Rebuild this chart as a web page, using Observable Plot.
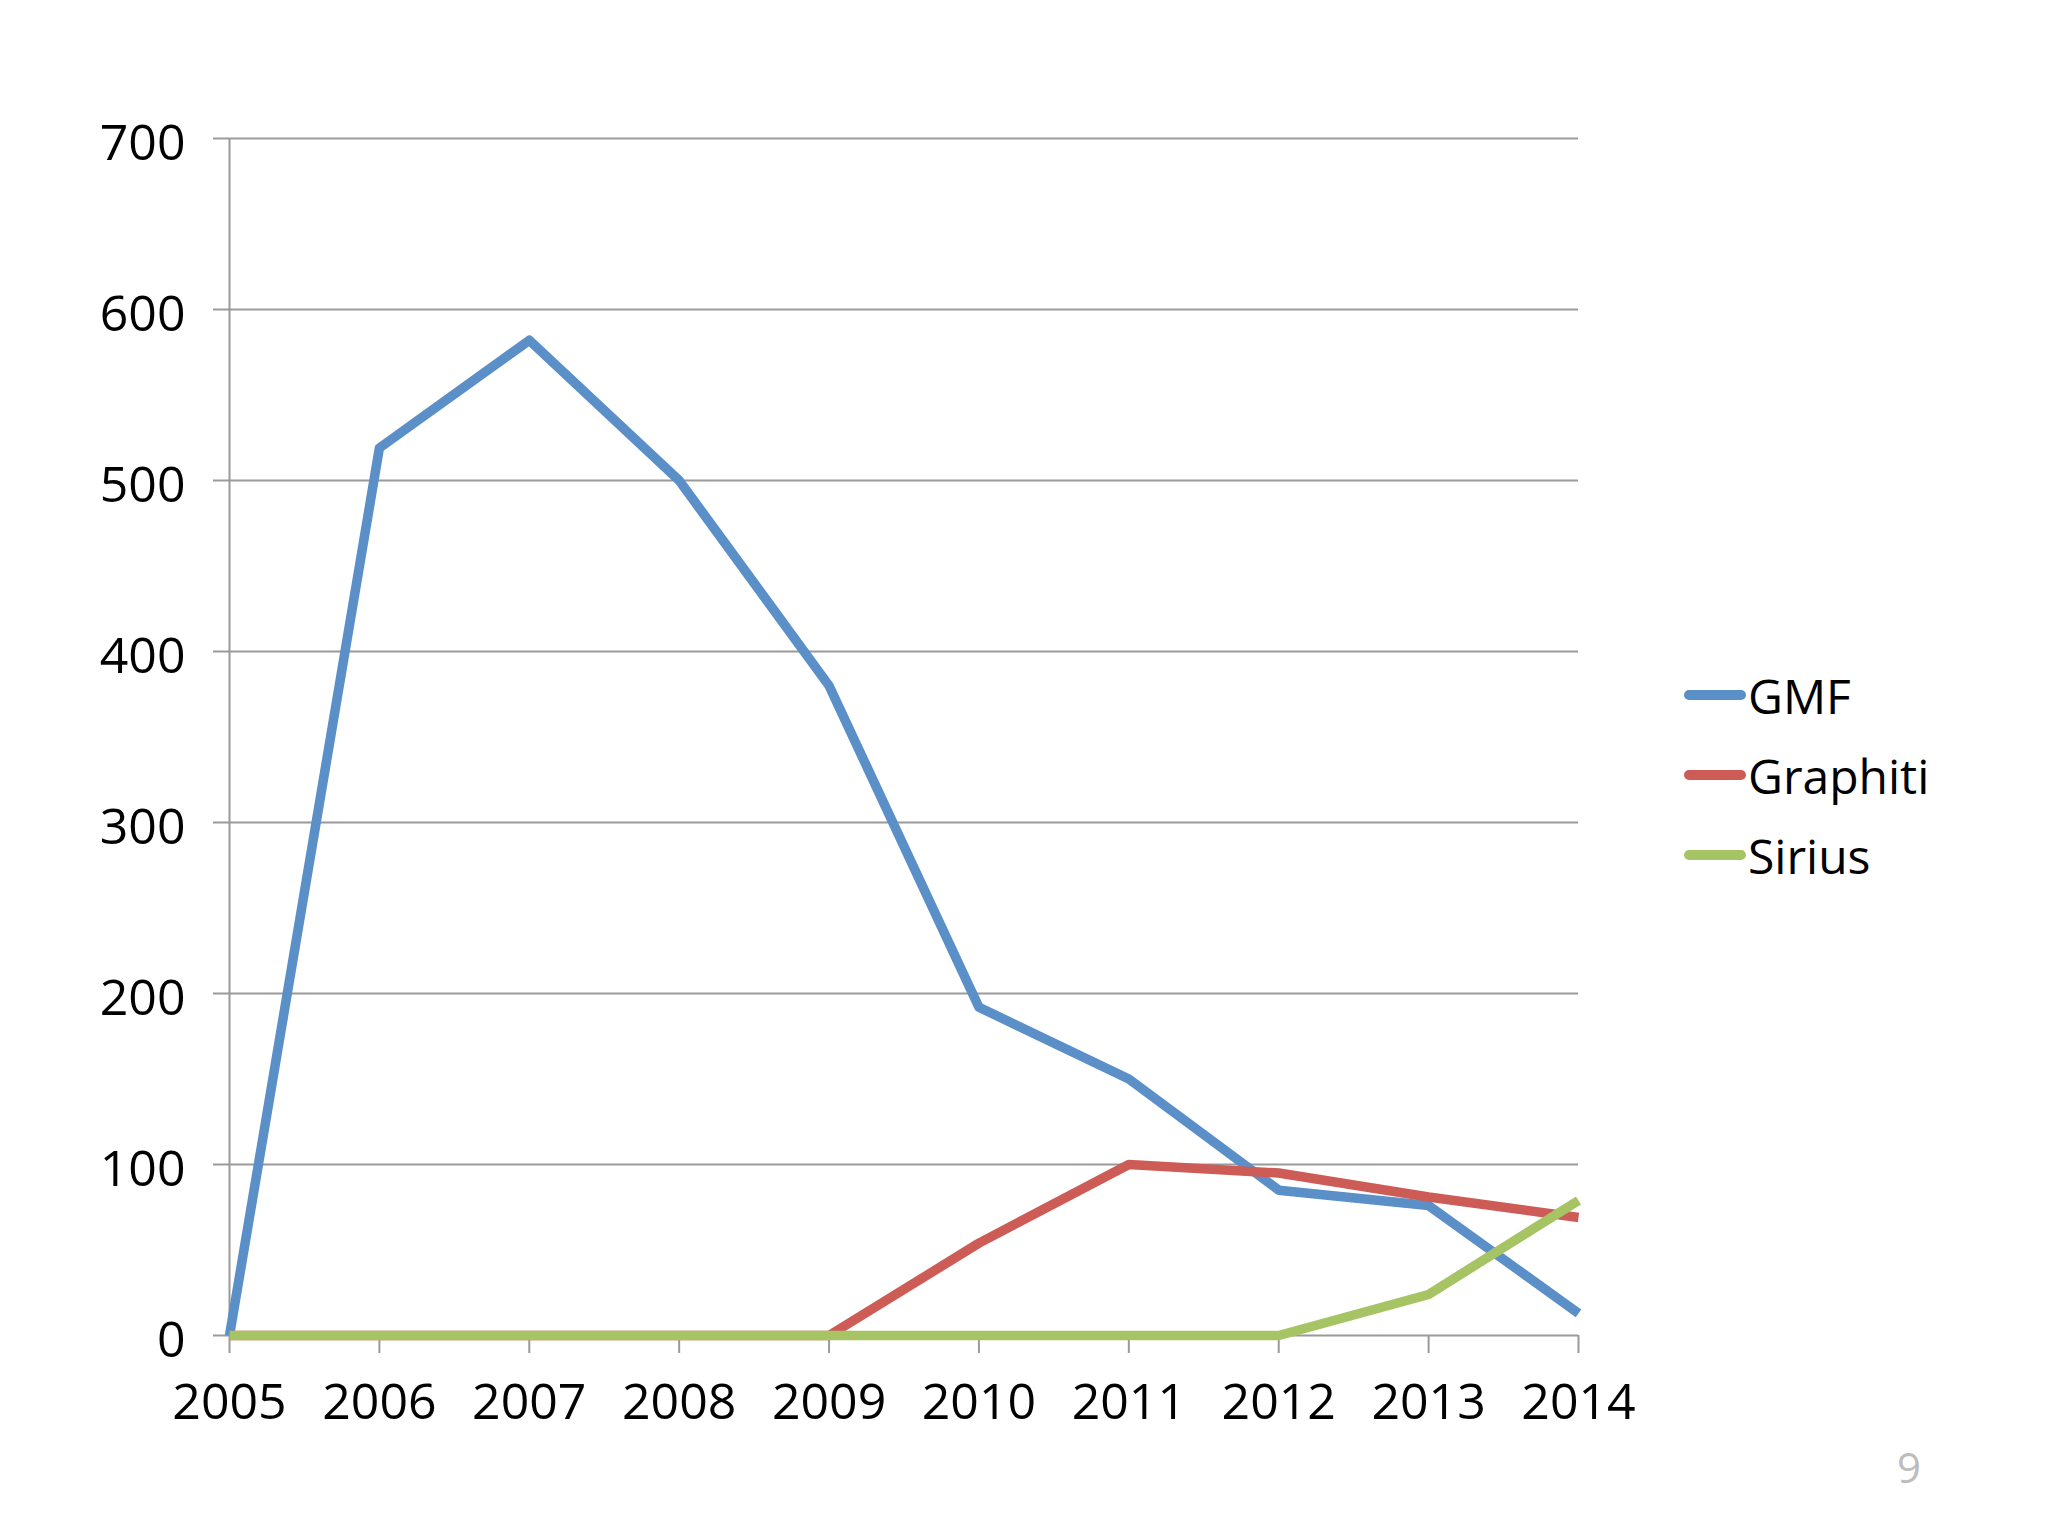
<!DOCTYPE html>
<html>
<head>
<meta charset="utf-8">
<script src="https://cdn.jsdelivr.net/npm/d3@7"></script>
<script src="https://cdn.jsdelivr.net/npm/@observablehq/plot@0.6"></script>
<style>
  html, body { margin: 0; padding: 0; background: #fff; }
  #wrap { position: relative; width: 2048px; height: 1536px; font-family: "Open Sans", "Noto Sans", sans-serif; }
  #legend { position: absolute; left: 1684px; top: 655px; }
  .item { position: relative; height: 80px; display: flex; align-items: center; font-size: 48px; color: #000; }
  .swatch { width: 62px; height: 10px; border-radius: 5px; margin-right: 2px; }
  #page { position: absolute; left: 1897px; top: 1438px; font-size: 42px; color: #bdbdbd; }
</style>
</head>
<body>
<div id="wrap">
  <div id="chart"></div>
  <div id="legend"></div>
  <div id="page">9</div>
</div>
<script>
const years = [2005, 2006, 2007, 2008, 2009, 2010, 2011, 2012, 2013, 2014];
const gmf = [0, 519, 582, 500, 380, 192, 150, 85, 76, 13];
const graphiti = [0, 0, 0, 0, 0, 54, 100, 95, 81, 69];
const sirius = [0, 0, 0, 0, 0, 0, 0, 0, 24, 79];
const seriesNames = ["GMF", "Graphiti", "Sirius"];
const seriesColors = ["#5b8fc8", "#cd5c57", "#a6c464"];
const yTicks = [0, 100, 200, 300, 400, 500, 600, 700];

const seriesValues = [gmf, graphiti, sirius];
const rows = [];
seriesNames.forEach((name, i) => {
  years.forEach((yr, j) => rows.push({ year: yr, value: seriesValues[i][j], series: name }));
});

const chart = Plot.plot({
  width: 2048,
  height: 1536,
  marginLeft: 229,
  marginRight: 470,
  marginTop: 138,
  marginBottom: 201,
  style: { fontFamily: '"Open Sans", "Noto Sans", sans-serif', fontSize: "50px", color: "#000", background: "#fff" },
  x: { domain: [2005, 2014] },
  y: { domain: [0, 700] },
  color: { domain: seriesNames, range: seriesColors },
  marks: [
    Plot.ruleY(yTicks, { stroke: "#9a9a9a", strokeWidth: 2 }),
    Plot.ruleX([2005], { stroke: "#9a9a9a", strokeWidth: 2 }),
    Plot.axisY({ ticks: yTicks, tickSize: 16, tickFormat: () => "", stroke: "#9a9a9a", strokeWidth: 2, label: null }),
    Plot.text(yTicks, { x: 2005, y: d => d, text: d => String(d), dx: -44, dy: 5, textAnchor: "end", fill: "#000", fontSize: 50 }),
    Plot.axisX({ ticks: years, tickSize: 18, tickPadding: 30, tickFormat: "d", stroke: "#9a9a9a", strokeWidth: 2, fill: "#000", fontSize: 50, label: null }),
    Plot.line(rows, { x: "year", y: "value", z: "series", stroke: "series", strokeWidth: 9.5, strokeLinejoin: "round", strokeLinecap: "butt" })
  ]
});
document.getElementById("chart").appendChild(chart);

const legend = document.getElementById("legend");
seriesNames.forEach((name, i) => {
  const it = document.createElement("div");
  it.className = "item";
  const sw = document.createElement("div");
  sw.className = "swatch";
  sw.style.background = seriesColors[i];
  const lab = document.createElement("span");
  lab.textContent = name;
  it.appendChild(sw);
  it.appendChild(lab);
  legend.appendChild(it);
});
</script>
</body>
</html>
